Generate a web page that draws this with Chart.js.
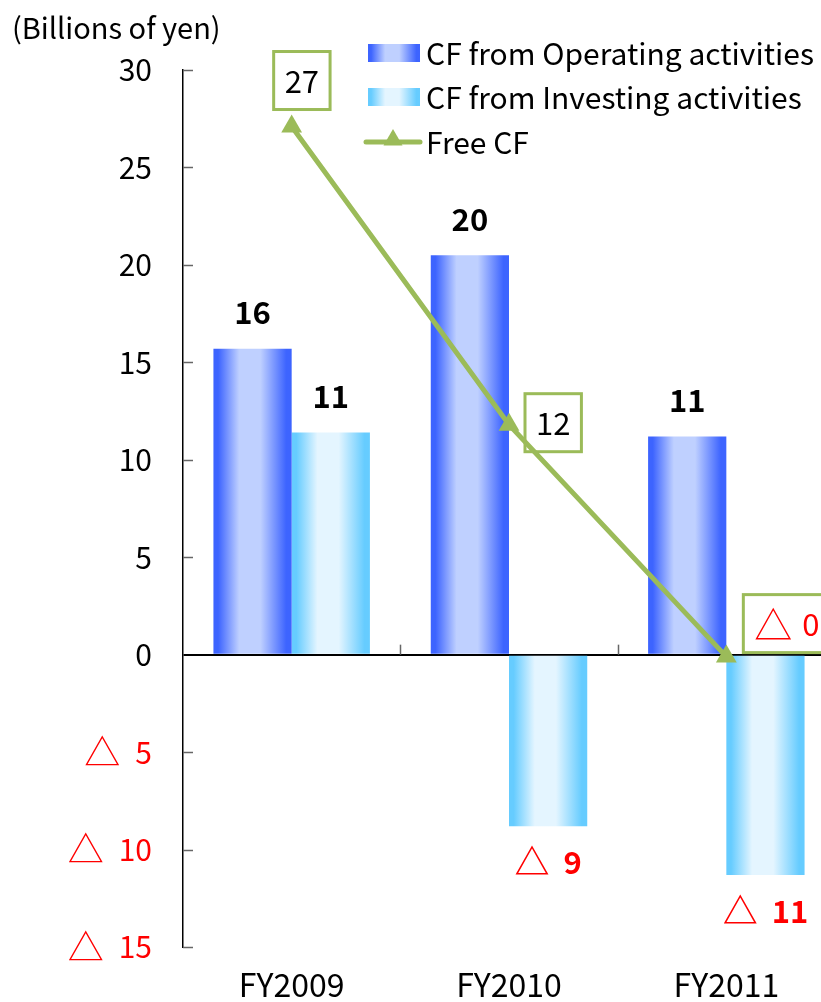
<!DOCTYPE html>
<html>
<head>
<meta charset="utf-8">
<script src="https://cdn.jsdelivr.net/npm/chart.js@4.4.1/dist/chart.umd.min.js"></script>
<style>
html, body { margin: 0; padding: 0; background: #fff; overflow: hidden; }
canvas { display: block; }
</style>
</head>
<body>
<canvas id="cfChart" width="847" height="1002"></canvas>
<script>
// Datos (miles de millones de yenes)
const categories = ['FY2009', 'FY2010', 'FY2011'];
const operatingCF = [15.7, 20.5, 11.2];
const investingCF = [11.4, -8.8, -11.3];
const freeCF = [27.1, 11.8, -0.1];
const operatingLabels = ['16', '20', '11'];
const investingLabels = ['11', '△ 9', '△ 11'];
const freeLabels = ['27', '12', '△ 0'];
const yTicks = [-15, -10, -5, 0, 5, 10, 15, 20, 25, 30];

const FONT = "'Noto Sans CJK JP', 'Noto Sans', sans-serif";
const GREEN = '#9bbb59';
const RED = '#ff0000';
const CAT_PCT = 0.72;

// posicion de las cajas de Free CF: borde izquierdo y centro vertical respecto al punto
const freeBoxOffsets = [[-18, -46], [16, -2], [17, -33]];

function barFill(c, left, width, edge, mid) {
    const g = c.createLinearGradient(left, 0, left + width, 0);
    g.addColorStop(0, edge);
    g.addColorStop(0.06, edge);
    g.addColorStop(0.33, mid);
    g.addColorStop(0.6, mid);
    g.addColorStop(0.93, edge);
    g.addColorStop(1, edge);
    return g;
}

const barColors = [
    { edge: '#3d64ff', mid: '#bfd0ff' },
    { edge: '#66ccff', mid: '#e4f5ff' }
];

// Texto con triangulo (negativo): el triangulo se dibuja algo mas grande
function labelParts(c, txt, font, triFont, gap) {
    const neg = txt.startsWith('△');
    const digits = neg ? txt.slice(1).trim() : txt;
    c.font = font;
    const dw = c.measureText(digits).width;
    let tw = 0;
    if (neg) {
        c.font = triFont;
        tw = c.measureText('△').width + gap;
    }
    return { neg, digits, dw, tw, width: dw + tw };
}

function drawLabel(c, p, left, y, font, triFont) {
    c.textAlign = 'left';
    c.textBaseline = 'middle';
    if (p.neg) {
        c.font = triFont;
        c.fillText('△', left, y);
    }
    c.font = font;
    c.fillText(p.digits, left + p.tw, y);
}

// Degradado horizontal en cada barra
const gradientPlugin = {
    id: 'barGradient',
    beforeDatasetsDraw(chart) {
        chart.data.datasets.forEach((ds, di) => {
            if (ds.type !== 'bar') return;
            const col = barColors[di];
            chart.getDatasetMeta(di).data.forEach(el => {
                const left = el.x - el.width / 2;
                el.options = Object.assign({}, el.options, {
                    backgroundColor: barFill(chart.ctx, left, el.width, col.edge, col.mid)
                });
            });
        });
    }
};

// Ticks, etiquetas, leyenda y titulo
const decorPlugin = {
    id: 'decor',
    beforeDatasetsDraw(chart) {
        const c = chart.ctx;
        const meta = chart.getDatasetMeta(2);
        const font = '31px ' + FONT, triFont = '38px ' + FONT;
        c.save();
        meta.data.forEach((pt, i) => {
            const p = labelParts(c, freeLabels[i], font, triFont, 10);
            const w = p.width + 22, h = 58;
            const left = pt.x + freeBoxOffsets[i][0];
            const cy = pt.y + freeBoxOffsets[i][1];
            c.fillStyle = '#fff';
            c.fillRect(left, cy - h / 2, w, h);
            c.strokeStyle = GREEN;
            c.lineWidth = 3;
            c.strokeRect(left, cy - h / 2, w, h);
            c.fillStyle = freeCF[i] < 0 ? RED : '#000';
            drawLabel(c, p, left + 11, cy + 1, font, triFont);
        });
        c.restore();
    },
    afterDatasetsDraw(chart) {
        const c = chart.ctx;
        const area = chart.chartArea;
        const ys = chart.scales.y;
        const xs = chart.scales.x;
        const y0 = ys.getPixelForValue(0);
        c.save();

        // marcas del eje Y hacia dentro
        c.strokeStyle = '#666';
        c.lineWidth = 1.5;
        yTicks.forEach(v => {
            if (v === 0) return;
            const y = Math.round(ys.getPixelForValue(v)) + 0.5;
            c.beginPath();
            c.moveTo(area.left, y);
            c.lineTo(area.left + 10, y);
            c.stroke();
        });
        // marcas entre categorias sobre la linea de cero
        for (let i = 1; i < categories.length; i++) {
            const x = Math.round((xs.getPixelForValue(i - 1) + xs.getPixelForValue(i)) / 2) + 0.5;
            c.beginPath();
            c.moveTo(x, y0 - 10);
            c.lineTo(x, y0);
            c.stroke();
        }

        // etiquetas del eje Y (negativos con triangulo)
        const labelRight = area.left - 31;
        yTicks.forEach(v => {
            const txt = v < 0 ? '△ ' + Math.abs(v) : String(v);
            const p = labelParts(c, txt, '30px ' + FONT, '36px ' + FONT, 15);
            c.fillStyle = v < 0 ? RED : '#000';
            drawLabel(c, p, labelRight - p.width, ys.getPixelForValue(v), '30px ' + FONT, '36px ' + FONT);
        });

        // etiquetas de barras
        const bFont = 'bold 31px ' + FONT, bTri = 'bold 35px ' + FONT;
        [operatingLabels, investingLabels].forEach((labels, di) => {
            const values = di === 0 ? operatingCF : investingCF;
            chart.getDatasetMeta(di).data.forEach((el, i) => {
                const neg = values[i] < 0;
                const p = labelParts(c, labels[i], bFont, bTri, 14);
                c.fillStyle = neg ? RED : '#000';
                drawLabel(c, p, el.x - p.width / 2, neg ? el.y + 36 : el.y - 36, bFont, bTri);
            });
        });

        // titulo del eje
        c.fillStyle = '#000';
        c.textAlign = 'left';
        c.textBaseline = 'middle';
        c.font = '29px ' + FONT;
        c.fillText('(Billions of yen)', 12, 28);

        // leyenda
        const lx = 368, rows = [53, 97, 142];
        const names = ['CF from Operating activities', 'CF from Investing activities', 'Free CF'];
        [0, 1].forEach(i => {
            c.fillStyle = barFill(c, lx, 52, barColors[i].edge, barColors[i].mid);
            c.fillRect(lx, rows[i] - 9, 52, 18);
        });
        c.strokeStyle = GREEN;
        c.lineWidth = 5;
        c.lineCap = 'round';
        c.beginPath();
        c.moveTo(lx - 2, rows[2]);
        c.lineTo(lx + 52, rows[2]);
        c.stroke();
        c.fillStyle = GREEN;
        Chart.helpers.drawPoint(c, { pointStyle: 'triangle', radius: 11, rotation: 0, borderWidth: 0 }, lx + 25, rows[2] - 2);
        c.fillStyle = '#000';
        c.font = '30px ' + FONT;
        names.forEach((n, i) => c.fillText(n, lx + 58, rows[i] + 1));

        c.restore();
    }
};

const ctx = document.getElementById('cfChart').getContext('2d');
new Chart(ctx, {
    type: 'bar',
    data: {
        labels: categories,
        datasets: [
            {
                type: 'bar',
                label: 'CF from Operating activities',
                data: operatingCF,
                backgroundColor: barColors[0].edge,
                borderWidth: 0,
                categoryPercentage: CAT_PCT,
                barPercentage: 1,
                order: 2
            },
            {
                type: 'bar',
                label: 'CF from Investing activities',
                data: investingCF,
                backgroundColor: barColors[1].edge,
                borderWidth: 0,
                categoryPercentage: CAT_PCT,
                barPercentage: 1,
                order: 2
            },
            {
                type: 'line',
                label: 'Free CF',
                data: freeCF,
                borderColor: GREEN,
                borderWidth: 5,
                tension: 0,
                pointStyle: 'triangle',
                pointRadius: 12,
                pointBackgroundColor: GREEN,
                pointBorderWidth: 0,
                order: 1
            }
        ]
    },
    options: {
        responsive: false,
        animation: false,
        layout: { padding: { top: 70, right: 5, left: 0, bottom: 0 } },
        plugins: {
            legend: { display: false },
            tooltip: { enabled: false }
        },
        scales: {
            x: {
                afterFit: s => { s.height = 55; },
                grid: { display: false },
                border: { display: false },
                ticks: {
                    color: '#000',
                    padding: 11,
                    font: { family: FONT, size: 32 }
                }
            },
            y: {
                min: -15,
                max: 30,
                afterFit: s => { s.width = 183; },
                afterBuildTicks: s => { s.ticks = yTicks.map(v => ({ value: v })); },
                ticks: { display: false },
                grid: {
                    drawTicks: false,
                    lineWidth: 2,
                    color: c => (c.tick && c.tick.value === 0) ? '#000' : 'rgba(0,0,0,0)'
                },
                border: { display: true, color: '#000', width: 1.5 }
            }
        }
    },
    plugins: [gradientPlugin, decorPlugin]
});
</script>
</body>
</html>
